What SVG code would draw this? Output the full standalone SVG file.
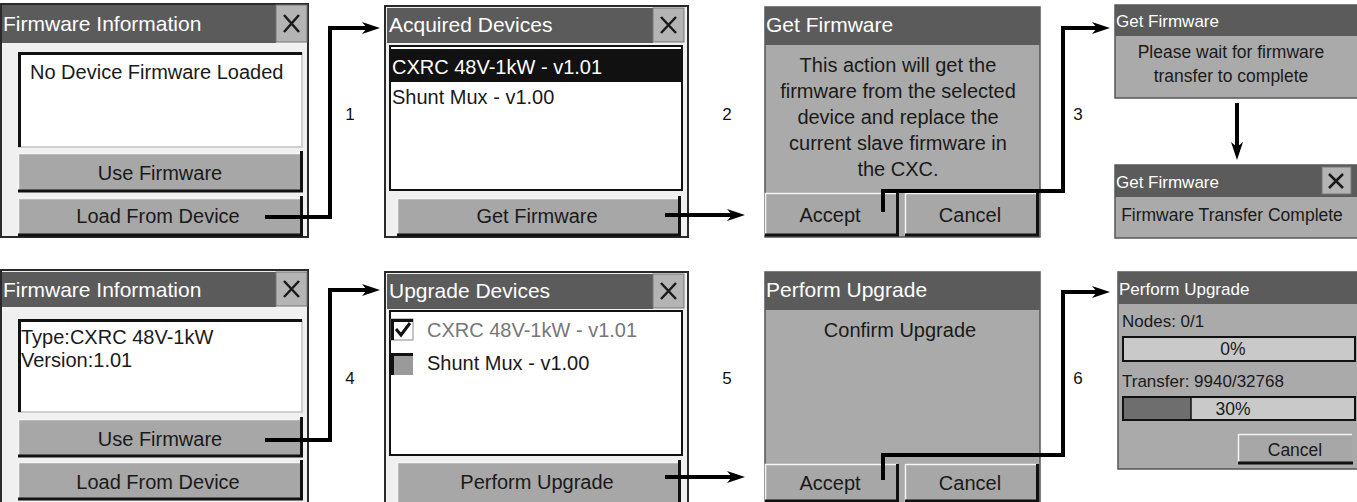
<svg xmlns="http://www.w3.org/2000/svg" width="1357" height="502" viewBox="0 0 1357 502">
<defs>
<marker id="ah" viewBox="0 0 18 12" refX="10" refY="6" markerWidth="18" markerHeight="12" markerUnits="userSpaceOnUse" orient="auto">
<path d="M0,0 L18,6 L0,12 L5,6 z" fill="#000"/>
</marker>
<style>
text{font-family:"Liberation Sans",Arial,sans-serif;}
.win{fill:#f0f0f0;stroke:#2a2a2a;stroke-width:2;}
.dlg{fill:#aaaaaa;stroke:#555;stroke-width:1.5;}
.title{fill:#5b5b5b;}
.ttl{fill:#fff;font-size:21px;}
.ttls{fill:#fff;font-size:17px;}
.close{fill:#b4b4b4;stroke:#777;stroke-width:1;}
.x{stroke:#1a1a1a;stroke-width:2.5;fill:none;}
.list{fill:#fff;}
.sunk{fill:none;stroke:#111;stroke-width:3;}
.sunkl{fill:none;stroke:#cfcfcf;stroke-width:2;}
.btn{fill:#a7a7a7;}
.bh{fill:none;stroke:#f4f4f4;stroke-width:1.5;}
.bs{fill:none;stroke:#111;stroke-width:3;}
.t{fill:#1a1a1a;font-size:20px;}
.tc{fill:#1a1a1a;font-size:20px;text-anchor:middle;}
.ts{fill:#1a1a1a;font-size:17px;}
.tsc{fill:#1a1a1a;font-size:17.5px;text-anchor:middle;}
.lbl{fill:#111;font-size:17px;text-anchor:middle;}
.conn{fill:none;stroke:#000;stroke-width:4;marker-end:url(#ah);}
</style>
</defs>

<!-- Panel 1: Firmware Information (top) -->
<g id="fw-info-1">
<rect class="win" x="1" y="4" width="307" height="233"/>
<rect class="title" x="2" y="5" width="274" height="38"/>
<text class="ttl" x="3" y="31">Firmware Information</text>
<rect class="close" x="276" y="5" width="31" height="37"/>
<path class="x" d="M284,15 L299,32 M299,15 L284,32"/>
<rect class="list" x="18" y="52" width="284" height="95"/>
<path class="sunkl" d="M302,52 V147 H18"/>
<path class="sunk" d="M19.5,147 V53.5 H302"/>
<text class="t" x="30" y="79">No Device Firmware Loaded</text>
<rect class="btn" x="18" y="153" width="284" height="39"/>
<path class="bh" d="M18.5,191 V153.5 H301"/>
<path class="bs" d="M18,191 H301.5 V151"/>
<text class="tc" x="160" y="180">Use Firmware</text>
<rect class="btn" x="18" y="198" width="284" height="38"/>
<path class="bh" d="M18.5,235 V198.5 H301"/>
<path class="bs" d="M18,235 H301.5 V196"/>
<text class="tc" x="158" y="223">Load From Device</text>
</g>

<!-- Panel 2: Acquired Devices -->
<g id="acquired-devices">
<rect class="win" x="385" y="6" width="303" height="231"/>
<rect class="title" x="387" y="8" width="266" height="35"/>
<text class="ttl" x="389" y="32">Acquired Devices</text>
<rect class="close" x="653" y="8" width="31" height="34"/>
<path class="x" d="M661,17 L676,33 M676,17 L661,33"/>
<rect class="list" x="390" y="46" width="292" height="144" stroke="#111" stroke-width="2"/>
<rect x="391" y="49" width="290" height="33" fill="#111"/>
<text x="392" y="74" fill="#fff" font-size="20px">CXRC 48V-1kW - v1.01</text>
<text class="t" x="392" y="104">Shunt Mux - v1.00</text>
<rect class="btn" x="397" y="198" width="283" height="38"/>
<path class="bh" d="M397.5,235 V198.5 H679"/>
<path class="bs" d="M397,235 H679.5 V196"/>
<text class="tc" x="537" y="223">Get Firmware</text>
</g>

<!-- Panel 3: Get Firmware confirm -->
<g id="get-firmware-confirm">
<rect class="dlg" x="765" y="7" width="275" height="230"/>
<rect class="title" x="765" y="7" width="275" height="38"/>
<text class="ttl" x="766" y="32">Get Firmware</text>
<text class="tc" x="898" y="72">This action will get the</text>
<text class="tc" x="898" y="98">firmware from the selected</text>
<text class="tc" x="898" y="124">device and replace the</text>
<text class="tc" x="898" y="150">current slave firmware in</text>
<text class="tc" x="898" y="176">the CXC.</text>
<rect class="btn" x="765" y="193" width="133" height="43"/>
<path class="bh" d="M765.5,235 V193.5 H897"/>
<path class="bs" d="M765,235 H897.5 V193"/>
<text class="tc" x="830" y="222">Accept</text>
<rect class="btn" x="905" y="193" width="133" height="43"/>
<path class="bh" d="M905.5,235 V193.5 H1037"/>
<path class="bs" d="M905,235 H1037.5 V193"/>
<text class="tc" x="970" y="222">Cancel</text>
</g>

<!-- Panel 4: Please wait -->
<g id="get-firmware-wait">
<rect class="dlg" x="1115" y="5" width="243" height="93"/>
<rect class="title" x="1115" y="5" width="242" height="31"/>
<text class="ttls" x="1116" y="27">Get Firmware</text>
<text class="tsc" x="1231" y="58">Please wait for firmware</text>
<text class="tsc" x="1231" y="82">transfer to complete</text>
</g>

<!-- Panel 5: Transfer complete -->
<g id="get-firmware-complete">
<rect class="dlg" x="1115" y="165" width="243" height="73"/>
<rect class="title" x="1115" y="165" width="242" height="32"/>
<text class="ttls" x="1116" y="188">Get Firmware</text>
<rect class="close" x="1322" y="167" width="29" height="27"/>
<path class="x" d="M1329,174 L1343,188 M1343,174 L1329,188"/>
<text class="tsc" x="1232" y="221">Firmware Transfer Complete</text>
</g>

<!-- Panel 6: Firmware Information (bottom) -->
<g id="fw-info-2">
<rect class="win" x="1" y="270" width="307" height="233"/>
<rect class="title" x="2" y="272" width="274" height="35"/>
<text class="ttl" x="3" y="297">Firmware Information</text>
<rect class="close" x="276" y="272" width="31" height="34"/>
<path class="x" d="M284,281 L299,297 M299,281 L284,297"/>
<rect class="list" x="18" y="319" width="284" height="93"/>
<path class="sunkl" d="M302,319 V412 H18"/>
<path class="sunk" d="M19.5,412 V320.5 H302"/>
<text class="t" x="21" y="344">Type:CXRC 48V-1kW</text>
<text class="t" x="21" y="367">Version:1.01</text>
<rect class="btn" x="18" y="419" width="284" height="38"/>
<path class="bh" d="M18.5,456 V419.5 H301"/>
<path class="bs" d="M18,456 H301.5 V417"/>
<text class="tc" x="160" y="446">Use Firmware</text>
<rect class="btn" x="18" y="462" width="284" height="38"/>
<path class="bh" d="M18.5,499 V462.5 H301"/>
<path class="bs" d="M18,499 H301.5 V460"/>
<text class="tc" x="158" y="489">Load From Device</text>
</g>

<!-- Panel 7: Upgrade Devices -->
<g id="upgrade-devices">
<rect class="win" x="385" y="272" width="303" height="231"/>
<rect class="title" x="387" y="274" width="266" height="35"/>
<text class="ttl" x="389" y="298">Upgrade Devices</text>
<rect class="close" x="653" y="274" width="31" height="34"/>
<path class="x" d="M661,283 L676,299 M676,283 L661,299"/>
<rect class="list" x="390" y="311" width="292" height="144" stroke="#111" stroke-width="2"/>
<rect x="391" y="319" width="22" height="21" fill="#fff" stroke="#888" stroke-width="1"/>
<path d="M392.5,340 V320.5 H413" fill="none" stroke="#111" stroke-width="3"/>
<path d="M396,329 L401,335 L410,323" fill="none" stroke="#111" stroke-width="3"/>
<text x="427" y="337" fill="#777" font-size="20px">CXRC 48V-1kW - v1.01</text>
<rect x="391" y="353" width="22" height="22" fill="#9a9a9a"/>
<path d="M392.5,375 V354.5 H413" fill="none" stroke="#111" stroke-width="3"/>
<text class="t" x="427" y="370">Shunt Mux - v1.00</text>
<rect class="btn" x="397" y="462" width="283" height="40"/>
<path class="bh" d="M397.5,502 V462.5 H679"/>
<path class="bs" d="M679.5,502 V460"/>
<text class="tc" x="537" y="489">Perform Upgrade</text>
</g>

<!-- Panel 8: Perform Upgrade confirm -->
<g id="perform-upgrade-confirm">
<rect class="dlg" x="765" y="272" width="275" height="232"/>
<rect class="title" x="765" y="272" width="275" height="38"/>
<text class="ttl" x="766" y="297">Perform Upgrade</text>
<text class="tc" x="900" y="337">Confirm Upgrade</text>
<rect class="btn" x="765" y="464" width="133" height="40"/>
<path class="bh" d="M765.5,502 V464.5 H897"/>
<path class="bs" d="M765,501 H897.5 V464"/>
<text class="tc" x="830" y="490">Accept</text>
<rect class="btn" x="905" y="464" width="133" height="40"/>
<path class="bh" d="M905.5,502 V464.5 H1037"/>
<path class="bs" d="M905,501 H1037.5 V464"/>
<text class="tc" x="970" y="490">Cancel</text>
</g>

<!-- Panel 9: Perform Upgrade progress -->
<g id="perform-upgrade-progress">
<rect class="dlg" x="1118" y="272" width="240" height="197"/>
<rect class="title" x="1118" y="272" width="239" height="32"/>
<text class="ttls" x="1119" y="295">Perform Upgrade</text>
<text class="ts" x="1122" y="327">Nodes: 0/1</text>
<rect x="1123" y="337" width="232" height="24" fill="#c9c9c9" stroke="#111" stroke-width="2"/>
<text class="tsc" x="1233" y="355">0%</text>
<text class="ts" x="1122" y="387">Transfer: 9940/32768</text>
<rect x="1123" y="397" width="232" height="23" fill="#c9c9c9" stroke="#111" stroke-width="2"/>
<rect x="1124" y="398" width="67" height="21" fill="#6e6e6e"/>
<line x1="1191" y1="398" x2="1191" y2="419" stroke="#111" stroke-width="1.5"/>
<text class="tsc" x="1233" y="415">30%</text>
<rect class="btn" x="1238" y="434" width="114" height="30" fill="#b0b0b0"/>
<path class="bh" d="M1238.5,464 V434.5 H1352"/>
<path class="bs" d="M1238,463 H1353"/>
<text class="tsc" x="1295" y="456">Cancel</text>
</g>

<!-- Connectors -->
<g id="connectors">
<path class="conn" d="M265,217 H330 V28 H372"/>
<path class="conn" d="M665,215 H737"/>
<path class="conn" d="M883,212 V191 H1063 V28 H1102"/>
<path class="conn" d="M1237,103 V152"/>
<path class="conn" d="M265,440 H330 V290 H372"/>
<path class="conn" d="M665,477 H737"/>
<path class="conn" d="M883,480 V455 H1063 V292 H1102"/>
<text class="lbl" x="350" y="120">1</text>
<text class="lbl" x="727" y="120">2</text>
<text class="lbl" x="1078" y="120">3</text>
<text class="lbl" x="350" y="384">4</text>
<text class="lbl" x="727" y="384">5</text>
<text class="lbl" x="1078" y="384">6</text>
</g>
</svg>
